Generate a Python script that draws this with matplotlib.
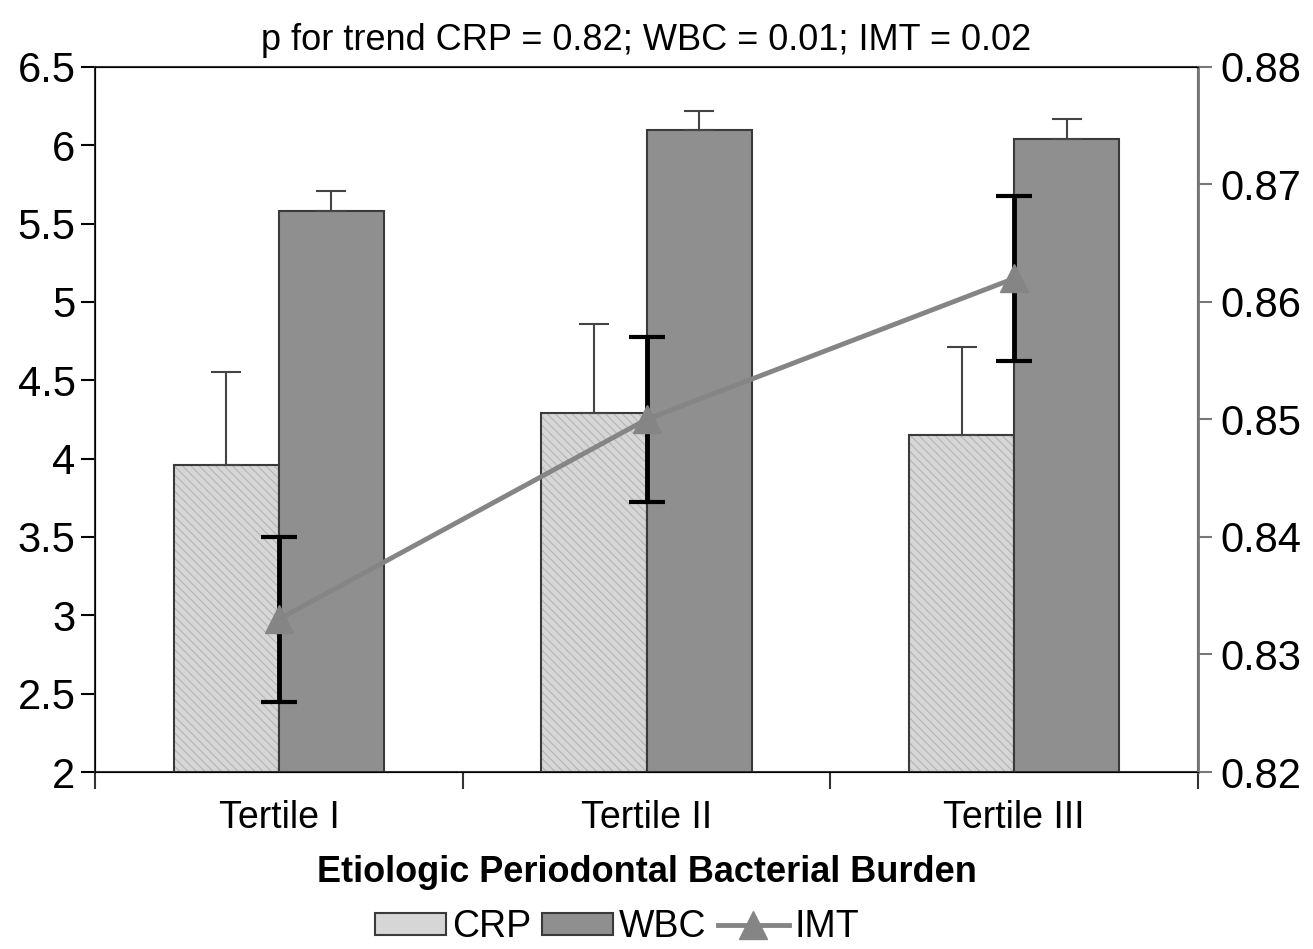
import matplotlib.pyplot as plt
import numpy as np
from matplotlib.patches import Patch

plt.rcParams['font.family'] = ['Liberation Sans', 'DejaVu Sans']
plt.rcParams['hatch.linewidth'] = 0.8

# données
tertiles = ["Tertile I", "Tertile II", "Tertile III"]
crp = [3.96, 4.29, 4.15]
crp_err = [0.59, 0.57, 0.56]
wbc = [5.58, 6.10, 6.04]
wbc_err = [0.13, 0.12, 0.13]
imt = [0.833, 0.850, 0.862]
imt_err_bas = [0.007, 0.007, 0.007]
imt_err_haut = [0.007, 0.007, 0.007]

x = np.arange(len(tertiles))
w = 0.286

fig = plt.figure(figsize=(13.13, 9.49), dpi=100)
ax = fig.add_axes([0.0724, 0.1865, 0.84, 0.743])

# CRP : fond hachuré clair puis contour sombre
ax.bar(x - w/2, crp, w, color="#d6d6d6", edgecolor="#b4b4b4", linewidth=0,
       hatch="\\\\\\\\", zorder=2)
ax.bar(x - w/2, crp, w, fill=False, edgecolor="#3a3a3a", linewidth=1.5, zorder=2)
ax.bar(x + w/2, wbc, w, color="#8f8f8f", edgecolor="#3a3a3a", linewidth=1.5,
       zorder=2)
ax.errorbar(x - w/2, crp, yerr=[np.zeros(3), crp_err], fmt="none",
            ecolor="#444444", elinewidth=1.5, capsize=11, capthick=1.5, zorder=3)
ax.errorbar(x + w/2, wbc, yerr=[np.zeros(3), wbc_err], fmt="none",
            ecolor="#444444", elinewidth=1.5, capsize=11, capthick=1.5, zorder=3)

ax.set_xlim(-0.5, 2.5)
ax.set_ylim(2, 6.5)
ax.set_yticks(np.arange(2, 6.51, 0.5))
ax.set_yticklabels(["2", "2.5", "3", "3.5", "4", "4.5", "5", "5.5", "6", "6.5"])
ax.set_xticks(x)
ax.set_xticklabels(tertiles)
ax.set_xticks([-0.5, 0.5, 1.5, 2.5], minor=True)
ax.tick_params(axis="x", which="major", length=0, labelsize=27, pad=20)
ax.tick_params(axis="x", which="minor", length=12, width=1.5, color="#333333")
ax.tick_params(axis="y", length=10, width=1.5, labelsize=30, pad=4)
for s in ax.spines.values():
    s.set_linewidth(1.5)
    s.set_color("#333333")
ax.set_xlabel("Etiologic Periodontal Bacterial Burden", fontsize=26,
              fontweight="bold", labelpad=14)

ax2 = ax.twinx()
ax2.set_ylim(0.82, 0.88)
ax2.set_yticks(np.arange(0.82, 0.8801, 0.01))
ax2.set_yticklabels(["0.82", "0.83", "0.84", "0.85", "0.86", "0.87", "0.88"])
ax2.tick_params(axis="y", length=10, width=1.5, labelsize=30, pad=6, color="#777777")
ax2.spines["right"].set_color("#777777")
ax2.spines["right"].set_linewidth(2)
ax2.errorbar(x, imt, yerr=[imt_err_bas, imt_err_haut], fmt="none",
             ecolor="black", elinewidth=3.5, capsize=13, capthick=3, zorder=3)
ax2.plot(x, imt, color="#858585", linewidth=3.5, marker="^", markersize=20,
         zorder=4)

ax.set_title("p for trend CRP = 0.82; WBC = 0.01; IMT = 0.02", fontsize=26, pad=12)

handles = [
    Patch(facecolor="#d6d6d6", edgecolor="#3a3a3a", linewidth=1.5),
    Patch(facecolor="#8f8f8f", edgecolor="#3a3a3a", linewidth=1.5),
    plt.Line2D([], [], color="#858585", linewidth=3.5, marker="^", markersize=20),
]
fig.legend(handles, ["CRP", "WBC", "IMT"], loc="lower center",
           bbox_to_anchor=(0.47, 0.0), ncol=3, frameon=False, fontsize=27,
           handlelength=1.9, handleheight=0.5, columnspacing=0.3,
           handletextpad=0.15, borderpad=0.05, borderaxespad=0.05)

plt.savefig("out.png", dpi=100)
